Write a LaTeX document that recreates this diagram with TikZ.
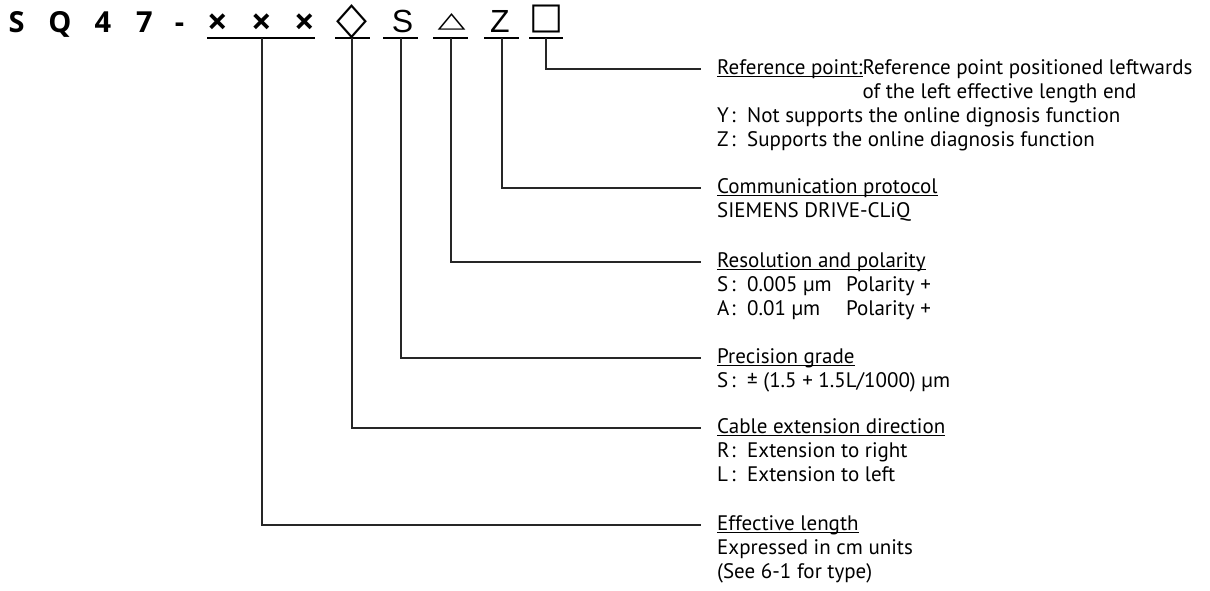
\documentclass[tikz,border=0pt]{standalone}
\usepackage{fontspec}
\setmainfont{PT Sans}
\newfontfamily\boldtitle{Open Sans}
\newfontfamily\symfont{DejaVu Sans}
\newfontfamily\arialfont{Liberation Sans}
\newcommand{\myul}[1]{\setbox0\hbox{#1}\rlap{\rule[-2.2pt]{\wd0}{0.9pt}}\box0}
\newcommand{\lab}[2]{\makebox[14pt][l]{#1}\makebox[16pt][l]{:}#2}
\tikzset{
  conn/.style={line width=1.3pt, draw=black!85},
  uline/.style={line width=1.3pt, draw=black},
  desc/.style={anchor=base west, inner sep=0pt, font=\fontsize{21}{24}\selectfont},
  tbold/.style={anchor=base, inner sep=0pt, font=\boldtitle\bfseries\fontsize{29}{29}\selectfont},
  tcross/.style={anchor=base, inner sep=0pt, font=\boldtitle\bfseries\fontsize{36}{36}\selectfont},
  treg/.style={anchor=base, inner sep=0pt, font=\arialfont\fontsize{32}{32}\selectfont},
  tsym/.style={anchor=base, inner sep=0pt, font=\symfont}
}
\begin{document}
\begin{tikzpicture}[x=1pt,y=-1pt]
\useasboundingbox (0,0) rectangle (1210,590);
% title
\node[tbold] (cS) at (16.5,32) {S};
\node[tbold] (cQ) at (60,32) {Q};
\node[tbold] (c4) at (103,32) {4};
\node[tbold] (c7) at (144.5,32) {7};
\node[tbold] (cdash) at (179.5,32) {-};
\node[tcross] (x1) at (217.5,34) {×};
\node[tcross] (x2) at (262,34) {×};
\node[tcross] (x3) at (305,34) {×};
\node[tsym] (dia) at (352,33) {\resizebox{31pt}{29pt}{\symbol{"25C7}}};
\node[treg] (sS) at (402.5,32) {S};
\node[tsym] (tri) at (451.5,27) {\resizebox{28pt}{14pt}{\symbol{"25B3}}};
\node[treg] (sZ) at (500,32) {Z};
\node[tsym] (sq) at (546.5,28.5) {\resizebox{34pt}{23.5pt}{\symbol{"25A1}}};
% underlines
\draw[uline] (207,38) -- (315,38);
\draw[uline] (335,38) -- (370,38);
\draw[uline] (383,38) -- (418,38);
\draw[uline] (433,38) -- (468,38);
\draw[uline] (484,38) -- (519,38);
\draw[uline] (529,38) -- (563,38);
\coordinate (u1) at (262,38);
\coordinate (u2) at (352,38);
\coordinate (u3) at (401,38);
\coordinate (u4) at (451,38);
\coordinate (u5) at (502,38);
\coordinate (u6) at (546,38);
\coordinate (e1) at (701,525);
\coordinate (e2) at (701,428);
\coordinate (e3) at (701,358);
\coordinate (e4) at (701,262);
\coordinate (e5) at (701,188);
\coordinate (e6) at (701,69);
\foreach \i in {1,...,6} {\draw[conn] (u\i) |- (e\i);}
% descriptions
\node[desc] (d6) at (717,74.5) {\vtop{%
  \hbox{\myul{Reference point:}Reference point positioned leftwards}
  \hbox{\setbox2\hbox{Reference point:}\hspace{\wd2}of the left effective length end}
  \hbox{\lab{Y}{Not supports the online dignosis function}}
  \hbox{\lab{Z}{Supports the online diagnosis function}}}};
\node[desc] (d5) at (717,193.5) {\vtop{%
  \hbox{\myul{Communication protocol}}
  \hbox{SIEMENS DRIVE-CLiQ}}};
\node[desc] (d4) at (717,267.5) {\vtop{%
  \hbox{\myul{Resolution and polarity}}
  \hbox{\lab{S}{\makebox[99pt][l]{0.005 µm}Polarity +}}
  \hbox{\lab{A}{\makebox[99pt][l]{0.01 µm}Polarity +}}}};
\node[desc] (d3) at (717,363.5) {\vtop{%
  \hbox{\myul{Precision grade}}
  \hbox{\lab{S}{± (1.5 + 1.5L/1000) µm}}}};
\node[desc] (d2) at (717,433.5) {\vtop{%
  \hbox{\myul{Cable extension direction}}
  \hbox{\lab{R}{Extension to right}}
  \hbox{\lab{L}{Extension to left}}}};
\node[desc] (d1) at (717,530.5) {\vtop{%
  \hbox{\myul{Effective length}}
  \hbox{Expressed in cm units}
  \hbox{(See 6-1 for type)}}};
\end{tikzpicture}
\end{document}
